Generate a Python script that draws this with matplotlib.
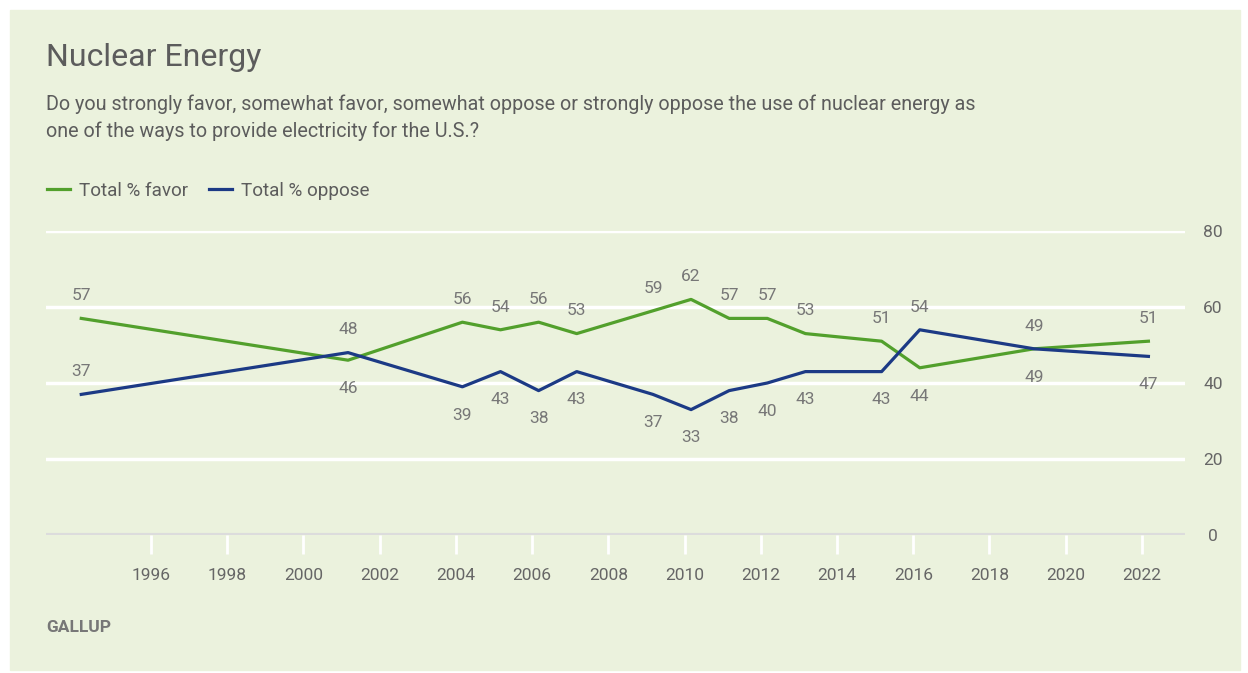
import matplotlib
matplotlib.use("Agg")
import matplotlib.pyplot as plt
from matplotlib.patches import Rectangle

# survey waves (March of each year)
years = [1994, 2001, 2004, 2005, 2006, 2007, 2009, 2010, 2011, 2012, 2013, 2015, 2016, 2019, 2022]
favor = [57, 46, 56, 54, 56, 53, 59, 62, 57, 57, 53, 51, 44, 49, 51]
oppose = [37, 48, 39, 43, 38, 43, 37, 33, 38, 40, 43, 43, 54, 49, 47]
x_ticks = list(range(1996, 2023, 2))
y_ticks = [0, 20, 40, 60, 80]

GREEN = "#52a02c"
NAVY = "#1c3a85"
BG = "#ebf2dd"
TXT = "#5c5c5c"
LBL = "#777777"

plt.rcParams["font.family"] = ["Roboto", "DejaVu Sans"]

fig = plt.figure(figsize=(12.48, 6.73), dpi=100)
fig.patches.append(Rectangle((10 / 1248, 3 / 673), 1230 / 1248, 660 / 673,
                             transform=fig.transFigure, color=BG, zorder=-10))

ax = fig.add_axes([46 / 1248, 138 / 673, 1139 / 1248, 304 / 673])
ax.set_facecolor("none")

xs = [y + 0.17 for y in years]
ax.plot(xs, favor, color=GREEN, lw=2.3, zorder=3)
ax.plot(xs, oppose, color=NAVY, lw=2.3, zorder=3)


def put_label(x, v, up):
    ax.annotate(str(v), (x, v), xytext=(0, 11 if up else -15), textcoords="offset points",
                ha="center", va="bottom" if up else "top", fontsize=12.5, color=LBL)


for i, (x, f, o) in enumerate(zip(xs, favor, oppose)):
    f_up = f >= o
    put_label(x, f, f_up)
    # first wave: both labels sit above the lines
    put_label(x, o, True if i == 0 else not f_up)

ax.set_xlim(1993.245, 2023.13)
ax.set_ylim(0, 80)
ax.set_xticks(x_ticks)
ax.set_yticks(y_ticks)
ax.yaxis.tick_right()
for s in ax.spines.values():
    s.set_visible(False)
for v in y_ticks[1:]:
    ax.axhline(v, color="white", lw=2.5, zorder=1)
ax.axhline(0, color="#dcdcdc", lw=3, zorder=1)
ax.tick_params(axis="x", length=14, width=2, color="white", pad=10, labelsize=12.5, labelcolor="#666666")
ax.tick_params(axis="y", length=0, pad=20, labelsize=12.5, labelcolor="#666666")
for lab in ax.get_yticklabels():
    lab.set_horizontalalignment("center")

fig.text(46 / 1248, 1 - 58 / 673, "Nuclear Energy", fontsize=23, color=TXT, va="center")
fig.text(46 / 1248, 1 - 104 / 673,
         "Do you strongly favor, somewhat favor, somewhat oppose or strongly oppose the use of nuclear energy as",
         fontsize=14.2, color=TXT, va="center")
fig.text(46 / 1248, 1 - 131 / 673, "one of the ways to provide electricity for the U.S.?",
         fontsize=14.2, color=TXT, va="center")

h1, = ax.plot([], [], color=GREEN, lw=2.3)
h2, = ax.plot([], [], color=NAVY, lw=2.3)
fig.legend([h1, h2], ["Total % favor", "Total % oppose"], loc="center left",
           bbox_to_anchor=(30 / 1248, 1 - 191 / 673), ncol=2, frameon=False,
           handlelength=1.2, handletextpad=0.5, columnspacing=1.1, fontsize=13.6,
           labelcolor=TXT)

fig.text(46 / 1248, 1 - 628 / 673, "GALLUP", fontsize=12.5, color="#777777",
         fontweight="bold", va="center")

fig.savefig("out.png", dpi=100, facecolor="white")
